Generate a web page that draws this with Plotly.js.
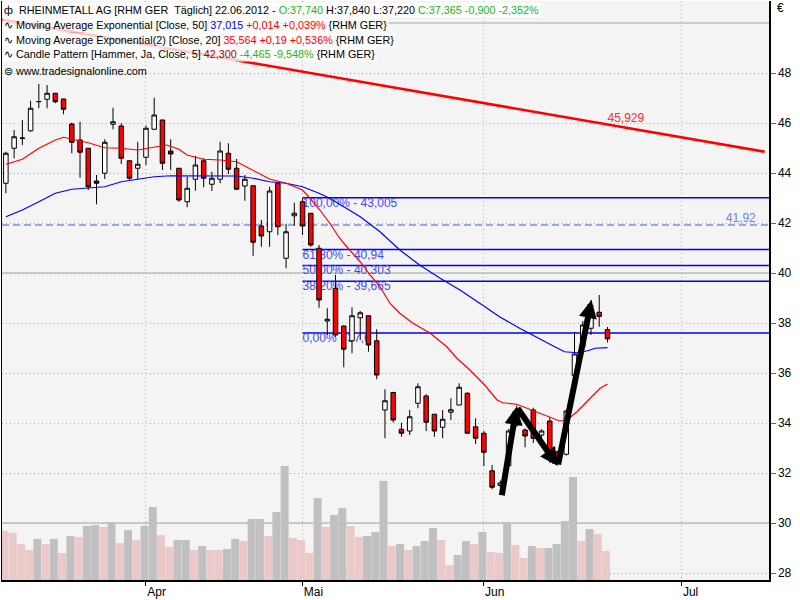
<!DOCTYPE html>
<html><head><meta charset="utf-8">
<script src="https://cdn.plot.ly/plotly-3.0.1.min.js"></script>
<style>html,body{margin:0;padding:0;background:#fff}#chart{width:800px;height:600px}</style>
</head><body><div id="chart"></div>
<script>
// ---------- DATA ----------
const tradeDates = ['08.03','09.03','12.03','13.03','14.03','15.03','16.03','19.03','20.03','21.03','22.03','23.03','26.03','27.03','28.03','29.03','30.03',
'02.04','03.04','04.04','05.04','10.04','11.04','12.04','13.04','16.04','17.04','18.04','19.04','20.04','23.04','24.04','25.04','26.04','27.04','30.04',
'02.05','03.05','04.05','07.05','08.05','09.05','10.05','11.05','14.05','15.05','16.05','17.05','18.05','21.05','22.05','23.05','24.05','25.05','28.05','29.05','30.05','31.05',
'01.06','04.06','05.06','06.06','07.06','08.06','11.06','12.06','13.06','14.06','15.06','18.06','19.06','20.06','21.06','22.06'];
const openP = [43.59,44.99,45.38,45.69,46.85,46.95,47.19,46.96,45.96,45.32,
44.99,43.68,43.99,45.95,45.88,44.49,44.19,44.63,45.75,46.12,
44.88,44.19,42.85,43.75,44.49,43.55,43.75,44.79,44.19,43.48,
43.49,41.88,41.65,43.59,40.59,42.29,42.85,42.39,40.99,38.08,
39.39,37.88,37.29,38.21,38.29,37.29,34.52,35.22,33.75,33.68,
34.79,35.08,34.35,33.83,34.43,34.72,35.19,33.85,33.59,32.09,
31.50,32.29,33.92,33.72,34.52,33.52,34.08,32.85,32.75,35.89,
37.05,37.79,38.43,37.74];
const highP = [44.85,45.72,46.12,46.89,47.56,47.52,47.20,46.97,46.01,46.05,
45.00,43.92,45.35,46.61,45.99,44.50,45.25,45.89,47.01,46.13,
45.35,44.20,43.85,44.68,44.59,44.05,45.25,45.19,44.56,43.92,
43.50,42.12,43.45,43.65,41.96,42.81,42.99,42.40,41.12,38.59,
39.92,37.90,38.63,38.48,38.30,37.75,35.35,35.25,34.01,34.52,
35.59,35.15,34.36,34.52,34.99,35.59,35.23,34.19,33.68,32.32,
31.70,33.75,34.70,33.78,34.61,33.75,34.23,32.90,34.52,37.65,
38.08,38.92,39.12,37.84];
const lowP = [43.19,44.59,45.12,45.65,46.59,46.59,46.79,46.35,44.79,43.81,
43.32,42.75,43.76,45.75,44.36,43.69,43.75,44.32,45.74,44.12,
44.12,42.85,42.63,43.29,43.43,43.28,43.59,43.96,43.35,42.89,
40.69,41.05,41.05,41.52,40.19,41.89,41.52,41.05,38.61,37.52,
37.45,36.23,36.79,37.32,36.85,35.75,33.39,34.02,33.45,33.52,
34.59,33.68,33.45,33.39,34.12,34.71,33.59,33.16,32.28,31.35,
31.40,32.20,33.85,33.03,33.20,33.10,32.40,32.50,32.70,35.80,
36.72,37.52,37.85,37.22];
const closeP = [44.79,45.45,45.40,46.59,46.86,47.19,46.85,46.55,45.23,44.83,
43.45,43.59,45.23,46.05,44.59,43.79,44.35,45.79,46.32,44.39,
44.76,42.92,43.39,44.32,43.79,43.79,44.88,44.15,43.35,43.75,
41.23,41.48,43.28,41.85,41.65,42.39,41.88,41.12,38.92,38.15,
37.52,36.95,38.29,38.41,37.12,35.92,34.89,34.12,33.59,34.25,
35.45,34.03,33.68,34.15,34.53,35.43,33.59,33.39,32.83,31.43,
31.60,33.68,34.39,33.48,33.39,33.68,32.55,32.60,34.48,36.76,
37.92,38.35,38.265,37.365];
const volumeK = [394,378,288,240,328,288,328,216,352,344,
432,440,424,464,296,400,320,432,584,360,
264,320,320,240,272,240,240,248,328,312,
488,488,352,544,912,336,320,216,656,424,
520,576,432,344,352,384,792,272,288,240,
272,312,416,320,120,200,312,288,384,224,
216,464,280,176,272,256,256,288,472,824,
312,408,368,232];
const volumeTone = 'ppppgpgpgp'+'ggpgpgpggp'+'pggpgppggp'+'ggpggpppgp'+'ggppgggpgp'+'gggppggpgp'+'pgppgpgggg'+'pgpp';

const emaSlowX = [0,2,4,6,8,10,12,14,16,18,20,22,24,26,28,30,32,34,36,38,39.3,43,45.4,47.8,50.2,52.7,55.1,57.5,59.9,62.4,64.8,66.6,67.8,69.3,70.6,71.5,73];
const emaSlowY = [42.25,42.52,42.85,43.19,43.35,43.41,43.45,43.65,43.76,43.85,43.89,43.88,43.88,43.89,43.88,43.79,43.65,43.59,43.45,43.19,42.99,42.25,41.65,40.92,40.32,39.79,39.32,38.79,38.25,37.78,37.35,37.05,36.85,36.81,36.89,36.99,37.015];
const emaFastX = [0,2,4,6,7,8,10,12,14,16,18,19.5,21,22,24,26,28,30,32,34,36,36.9,38.1,39.3,40.5,41.7,43,44.2,45.4,46.6,47.8,49.4,51.5,53.5,54.7,56.3,58.1,59.6,60.3,62,63.6,65.2,67.2,68.1,69.3,70.9,72.1,73];
const emaFastY = [44.35,44.55,44.99,45.32,45.43,45.35,45.21,45.01,44.99,44.92,45.05,45.12,44.95,44.72,44.55,44.52,44.45,44.12,43.76,43.59,43.32,42.99,42.52,41.99,41.39,40.92,40.45,39.92,39.45,38.79,38.39,37.99,37.59,37.05,36.6,36.12,35.52,34.92,34.81,34.75,34.55,34.36,34.08,34.12,34.45,34.99,35.39,35.564];

const trendX = [-0.71, 92.08];
const trendY = [50.15, 44.85];
const trendLabel = '45,929';
const trendLabelValue = 45.929;

const fibStartIdx = 36;
const fibLevels = [43.005, 40.94, 40.303, 39.665, 37.6];
const fibLabels = ['100,00% - 43,005','61,80% - 40,94','50,00% - 40,303','38,20% - 39,665','0,00% - 37,6'];
const markLevel = 41.92;
const markLabel = '41,92';
const decadeLevels = [30, 40, 50];

const arrowX = [60.15, 61.97, 66.98, 71.06];
const arrowY = [31.05, 34.65, 32.28, 38.92];

const monthTickIdx = [17, 36, 58, 82];
const monthNames = ['Apr', 'Mai', 'Jun', 'Jul'];
const priceTicks = [28,30,32,34,36,38,40,42,44,46,48];

const headerLines = [
  'ф\u00a0\u00a0RHEINMETALL AG [RHM GER\u00a0\u00a0Täglich] 22.06.2012 - <span style="color:#22b422">O:37,740</span> H:37,840 L:37,220 <span style="color:#22b422">C:37,365 -0,900 -2,352%</span>',
  '∿\u00a0Moving Average Exponential [Close, 50] <span style="color:#0000ff">37,015</span> <span style="color:#ff0000">+0,014 +0,039%</span> {RHM GER}',
  '∿\u00a0Moving Average Exponential(2) [Close, 20] <span style="color:#ff0000">35,564 +0,19 +0,536%</span> {RHM GER}',
  '∿\u00a0Candle Pattern [Hammer, Ja, Close, 5] <span style="color:#a00000">42,300</span> <span style="color:#22b422">-4,465 -9,548%</span> {RHM GER}',
  '⊜\u00a0www.tradesignalonline.com'
];

// ---------- LAYOUT HELPERS ----------
const W = 800, H = 600, M = {l:2, r:31, t:1, b:20};
const PW = W - M.l - M.r, PH = H - M.t - M.b;
const px2x = px => (px - M.l) / PW;
const py2y = py => 1 - (py - M.t) / PH;
const xMin = -0.47, xMax = 92.6;
const yMin = 27.72, yMax = 50.88;
const FONT = 'Liberation Sans, Arial, sans-serif';

const idx = tradeDates.map((d, i) => i);

const traces = [];
traces.push({
  type: 'scatter', mode: 'text', xaxis: 'x', yaxis: 'y',
  x: fibLevels.map(() => fibStartIdx), y: fibLevels, text: fibLabels,
  textposition: 'bottom right', textfont: {family: FONT, size: 12, color: '#4848f0'},
  hoverinfo: 'skip', showlegend: false
});
traces.push({
  type: 'scatter', mode: 'text', xaxis: 'x', yaxis: 'y',
  x: [91.0], y: [markLevel], text: [markLabel],
  textposition: 'top left', textfont: {family: FONT, size: 12, color: '#6a86e0'},
  hoverinfo: 'skip', showlegend: false
});
traces.push({
  type: 'candlestick', xaxis: 'x', yaxis: 'y2',
  x: idx, open: openP, high: highP, low: lowP, close: closeP,
  increasing: {line: {color: '#000000', width: 1}, fillcolor: '#ffffff'},
  decreasing: {line: {color: '#000000', width: 1}, fillcolor: '#ff0000'},
  whiskerwidth: 0, hoverinfo: 'skip', showlegend: false
});
traces.push({
  type: 'scatter', mode: 'lines', xaxis: 'x', yaxis: 'y2',
  x: emaSlowX, y: emaSlowY, line: {color: '#0000ff', width: 1.2},
  hoverinfo: 'skip', showlegend: false
});
traces.push({
  type: 'scatter', mode: 'lines', xaxis: 'x', yaxis: 'y2',
  x: emaFastX, y: emaFastY, line: {color: '#ff0000', width: 1.2},
  hoverinfo: 'skip', showlegend: false
});
traces.push({
  type: 'scatter', mode: 'lines', xaxis: 'x', yaxis: 'y2',
  x: trendX, y: trendY, line: {color: '#ff0000', width: 2.6},
  hoverinfo: 'skip', showlegend: false
});
traces.push({
  type: 'scatter', mode: 'text', xaxis: 'x', yaxis: 'y2',
  x: [tradeDates.length - 1], y: [trendLabelValue], text: [trendLabel],
  textposition: 'top right', textfont: {family: FONT, size: 12, color: '#ff2a2a'},
  hoverinfo: 'skip', showlegend: false
});
traces.push({
  type: 'bar', xaxis: 'x', yaxis: 'y3',
  x: idx, y: volumeK, width: 0.97, offset: -0.66,
  marker: {color: volumeTone.split('').map(t => t === 'g' ? '#c0c0c0' : '#ecc9c9'), line: {width: 0}},
  hoverinfo: 'skip', showlegend: false
});

const shapes = [];
decadeLevels.forEach(v => shapes.push({
  type: 'line', xref: 'paper', x0: 0, x1: 1, yref: 'y', y0: v, y1: v,
  line: {color: '#b4c6b4', width: 1.5}, layer: 'between'
}));
shapes.push({
  type: 'line', xref: 'paper', x0: 0, x1: 1, yref: 'y', y0: markLevel, y1: markLevel,
  line: {color: '#3c5ce0', width: 1, dash: '7px,4px'}, layer: 'between'
});
fibLevels.forEach(v => shapes.push({
  type: 'line', xref: 'x', x0: fibStartIdx, x1: xMax, yref: 'y', y0: v, y1: v,
  line: {color: '#0000ff', width: 1.5}, layer: 'between'
}));

const annotations = [];
const headerY = [10, 25, 40, 54.5, 71];
headerLines.forEach((t, i) => annotations.push({
  xref: 'paper', yref: 'paper', x: px2x(2), y: py2y(headerY[i]),
  xanchor: 'left', yanchor: 'middle', align: 'left', showarrow: false,
  text: t, font: {family: FONT, size: 10.8, color: '#000'},
  bgcolor: i < 4 ? 'rgba(255,255,255,0.78)' : 'rgba(0,0,0,0)', borderpad: 1
}));
annotations.push({
  xref: 'paper', yref: 'paper', x: px2x(775), y: py2y(8),
  xanchor: 'left', yanchor: 'middle', showarrow: false,
  text: '€', font: {family: FONT, size: 12, color: '#000'}
});
for (let k = 1; k < arrowX.length; k++) {
  annotations.push({
    xref: 'x', yref: 'y', x: arrowX[k], y: arrowY[k],
    axref: 'x', ayref: 'y', ax: arrowX[k-1], ay: arrowY[k-1],
    showarrow: true, arrowhead: 2, arrowsize: 0.6, arrowwidth: 6,
    arrowcolor: '#000', standoff: 0, startstandoff: 0, text: ''
  });
}

const layout = {
  width: W, height: H, margin: M,
  paper_bgcolor: '#ffffff', plot_bgcolor: '#f4f4f4',
  showlegend: false, hovermode: false, boxgap: 0.22,
  font: {family: FONT, size: 12, color: '#000'},
  xaxis: {
    range: [xMin, xMax], tickvals: monthTickIdx, ticktext: monthNames,
    ticks: 'outside', ticklen: 4, tickcolor: '#000', tickwidth: 1,
    ticklabelposition: 'outside right',
    showgrid: true, gridcolor: '#a8b4a8', griddash: '1px,3px', gridwidth: 1,
    showline: true, linecolor: '#000', linewidth: 1.5, zeroline: false,
    rangeslider: {visible: false}, fixedrange: true,
    tickfont: {family: FONT, size: 12, color: '#000'}
  },
  yaxis: {
    range: [yMin, yMax], side: 'right', tickvals: priceTicks,
    ticks: 'outside', ticklen: 5, tickcolor: '#666', tickwidth: 1,
    showgrid: true, gridcolor: '#aaaaaa', griddash: '1px,3px', gridwidth: 1,
    showline: true, linecolor: '#000', linewidth: 1.5, mirror: true, zeroline: false,
    tickfont: {family: FONT, size: 12, color: '#000'}, fixedrange: true
  },
  yaxis2: {range: [yMin, yMax], overlaying: 'y', visible: false, fixedrange: true},
  yaxis3: {range: [0, PH * 8], overlaying: 'y', visible: false, fixedrange: true},
  shapes: shapes,
  annotations: annotations
};

Plotly.newPlot('chart', traces, layout, {displayModeBar: false, staticPlot: true});
</script>
</body></html>
